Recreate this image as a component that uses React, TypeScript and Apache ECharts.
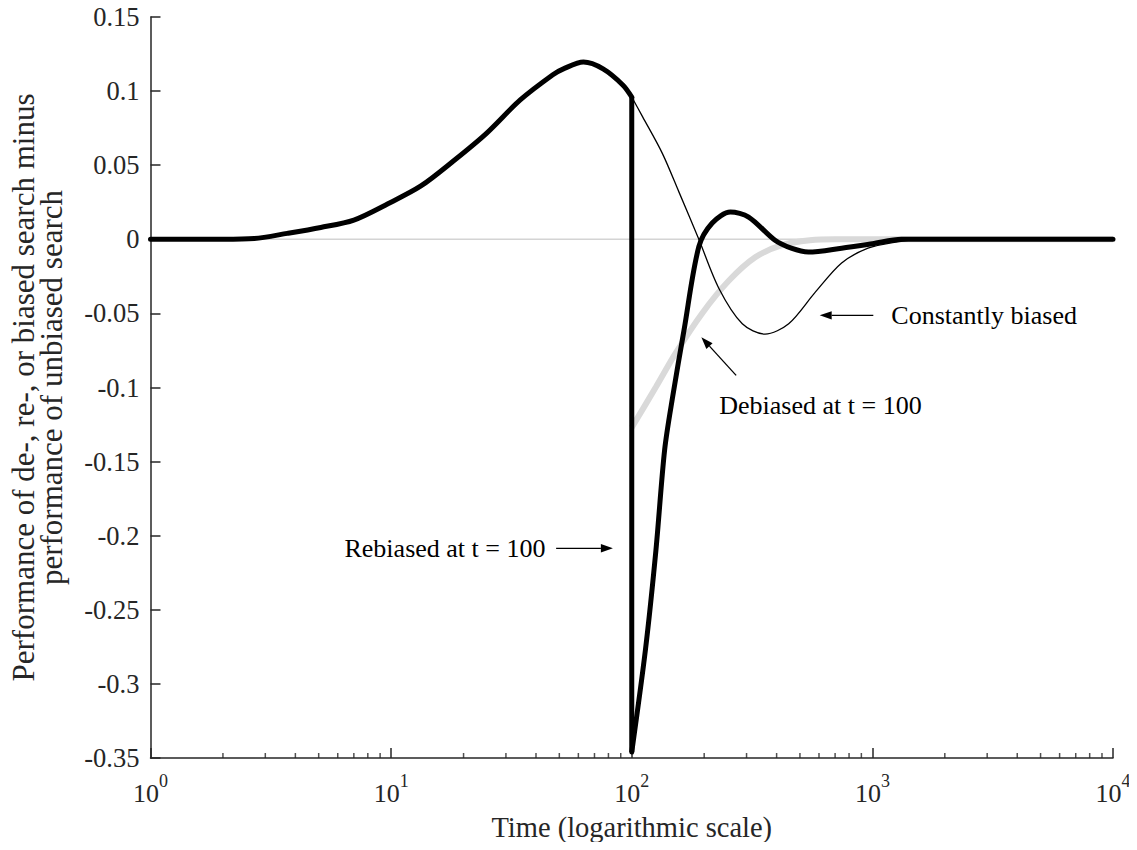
import React, { useEffect, useRef } from "react";
import * as echarts from "echarts";

const FONT = '"Liberation Serif", "Times New Roman", Times, serif';
const INK = "#262626";

// Shared curve before t = 100 (all three strategies coincide)
const preT = [1, 2, 2.7, 3.7, 5.1, 7, 9.7, 13.3, 18.2, 24.9, 34.4, 47, 52, 63, 76, 92, 100];
const preV = [0, 0, 0.0005, 0.004, 0.008, 0.013, 0.024, 0.036, 0.053, 0.0715, 0.094, 0.111, 0.115, 0.1196, 0.115, 0.104, 0.096];

// Constantly biased (thin black) after t = 100
const constT = [100, 111, 134, 157, 190, 230, 288, 358, 449, 577, 745, 959, 1233, 1600, 2500, 10000];
const constV = [0.096, 0.0826, 0.058, 0.032, 0, -0.033, -0.057, -0.064, -0.057, -0.036, -0.016, -0.006, -0.002, 0, 0, 0];

// Rebiased at t = 100 (thick black) after the drop
const rebT = [100, 114, 126, 137, 148, 165, 190, 216, 257, 306, 394, 460, 542, 745, 1000, 1320, 2500, 10000];
const rebV = [-0.346, -0.277, -0.21, -0.142, -0.106, -0.061, -0.005, 0.011, 0.0184, 0.015, -0.0007, -0.006, -0.0086, -0.006, -0.003, 0, 0, 0];

// Debiased at t = 100 (light grey)
const debT = [100, 126, 152, 196, 253, 327, 421, 550, 700, 1000, 10000];
const debV = [-0.127, -0.0997, -0.077, -0.05, -0.028, -0.012, -0.004, -0.0007, 0, 0, 0];

// Zero baseline (unbiased search)
const baseT = [1, 10000];
const baseV = [0, 0];

// Minor tick positions of the log axis
const minorTicks = [2, 3, 4, 5, 6, 7, 8, 9, 20, 30, 40, 50, 60, 70, 80, 90, 200, 300, 400, 500, 600, 700, 800, 900, 2000, 3000, 4000, 5000, 6000, 7000, 8000, 9000];

const yTicks = { min: -0.35, max: 0.15, interval: 0.05 };

// Annotations
const annLabels = ["Constantly biased", "Debiased at t = 100", "Rebiased at t = 100"];
const annTextT = [1199, 231, 6.4];
const annTextV = [-0.0513, -0.112, -0.2085];
const annFromT = [1009, 271.5, 48.5];
const annFromV = [-0.0513, -0.0918, -0.2085];
const annToT = [604, 194.7, 83.5];
const annToV = [-0.0513, -0.0661, -0.2085];

const zip = (t: number[], v: number[]) => t.map((x, i) => [x, v[i]]);

export default function App() {
  const ref = useRef<HTMLDivElement>(null);
  useEffect(() => {
    if (!ref.current) return;
    const chart = echarts.init(ref.current, undefined, { renderer: "svg" });
    const lineBase = { type: "line", showSymbol: false, symbol: "none", silent: true, animation: false };
    const SM = 0.3;
    chart.setOption({
      animation: false,
      grid: { left: 145, right: 24, top: 17, bottom: 92 },
      xAxis: {
        type: "log",
        logBase: 10,
        min: 1,
        max: 10000,
        splitNumber: 4,
        name: "Time (logarithmic scale)",
        nameLocation: "middle",
        nameGap: 55,
        nameTextStyle: { fontFamily: FONT, fontSize: 28.5, color: INK },
        axisLine: { show: true, onZero: false, lineStyle: { color: INK, width: 1.5 } },
        axisTick: { show: true, inside: true, length: 10, lineStyle: { color: INK, width: 1.5 } },
        minorTick: { show: false },
        splitLine: { show: false },
        axisLabel: {
          margin: 14,
          formatter: (v: number) => `{b|10}{s|${Math.round(Math.log10(v))}}`,
          rich: {
            b: { fontFamily: FONT, fontSize: 26, color: INK, lineHeight: 34, verticalAlign: "bottom" },
            s: { fontFamily: FONT, fontSize: 18, color: INK, lineHeight: 34, verticalAlign: "top" },
          },
        },
      },
      yAxis: {
        type: "value",
        min: yTicks.min,
        max: yTicks.max,
        interval: yTicks.interval,
        name: "Performance of de-, re-, or biased search minus\nperformance of unbiased search",
        nameLocation: "middle",
        nameGap: 85,
        nameTextStyle: { fontFamily: FONT, fontSize: 31, color: INK, lineHeight: 28 },
        axisLine: { show: true, onZero: false, lineStyle: { color: INK, width: 1.5 } },
        axisTick: { show: true, inside: true, length: 10, lineStyle: { color: INK, width: 1.5 } },
        splitLine: { show: false },
        axisLabel: {
          margin: 11,
          fontFamily: FONT,
          fontSize: 26.5,
          color: INK,
          formatter: (v: number) => String(+v.toFixed(2)),
        },
      },
      series: [
        { ...lineBase, name: "Unbiased", data: zip(baseT, baseV), lineStyle: { color: "#d4d4d4", width: 1.5 }, z: 1 },
        { ...lineBase, name: "Debiased", data: zip(debT, debV), smooth: SM, lineStyle: { color: "#d9d9d9", width: 6 }, z: 2 },
        { ...lineBase, name: "Constantly biased", data: zip(constT, constV), smooth: SM, lineStyle: { color: "#000", width: 1.3 }, z: 3 },
        { ...lineBase, name: "Shared", data: zip(preT, preV), smooth: SM, lineStyle: { color: "#000", width: 5, cap: "round" }, z: 4 },
        {
          ...lineBase,
          name: "Rebiased drop",
          data: [[preT[preT.length - 1], preV[preV.length - 1]], [rebT[0], rebV[0]]],
          lineStyle: { color: "#000", width: 5 },
          z: 4,
        },
        { ...lineBase, name: "Rebiased", data: zip(rebT, rebV), smooth: SM, lineStyle: { color: "#000", width: 5, cap: "round", join: "round" }, z: 4 },
        {
          type: "scatter",
          name: "minor ticks",
          silent: true,
          clip: false,
          symbol: "rect",
          symbolSize: [1.5, 5],
          symbolOffset: [0, -2.5],
          itemStyle: { color: INK },
          data: minorTicks.map((t) => [t, yTicks.min]),
          z: 5,
        },
      ],
    });

    const graphics: any[] = [];
    annLabels.forEach((label, i) => {
      const tp = chart.convertToPixel({ gridIndex: 0 }, [annTextT[i], annTextV[i]]) as number[];
      const a = chart.convertToPixel({ gridIndex: 0 }, [annFromT[i], annFromV[i]]) as number[];
      const b = chart.convertToPixel({ gridIndex: 0 }, [annToT[i], annToV[i]]) as number[];
      graphics.push({
        type: "text",
        x: tp[0],
        y: tp[1],
        style: { text: label, fontFamily: FONT, fontSize: 26, fill: "#000", verticalAlign: "middle", align: "left" },
        silent: true,
      });
      const dx = b[0] - a[0];
      const dy = b[1] - a[1];
      const len = Math.hypot(dx, dy);
      const ux = dx / len, uy = dy / len;
      const headL = 12, headW = 4.2;
      const bx = b[0] - ux * headL, by = b[1] - uy * headL;
      graphics.push({
        type: "line",
        shape: { x1: a[0], y1: a[1], x2: bx, y2: by },
        style: { stroke: "#000", lineWidth: 1.3 },
        silent: true,
      });
      graphics.push({
        type: "polygon",
        shape: { points: [[b[0], b[1]], [bx - uy * headW, by + ux * headW], [bx + uy * headW, by - ux * headW]] },
        style: { fill: "#000" },
        silent: true,
      });
    });
    chart.setOption({ graphic: graphics });

    return () => chart.dispose();
  }, []);
  return <div ref={ref} style={{ width: 1137, height: 850, margin: -8 }} />;
}
